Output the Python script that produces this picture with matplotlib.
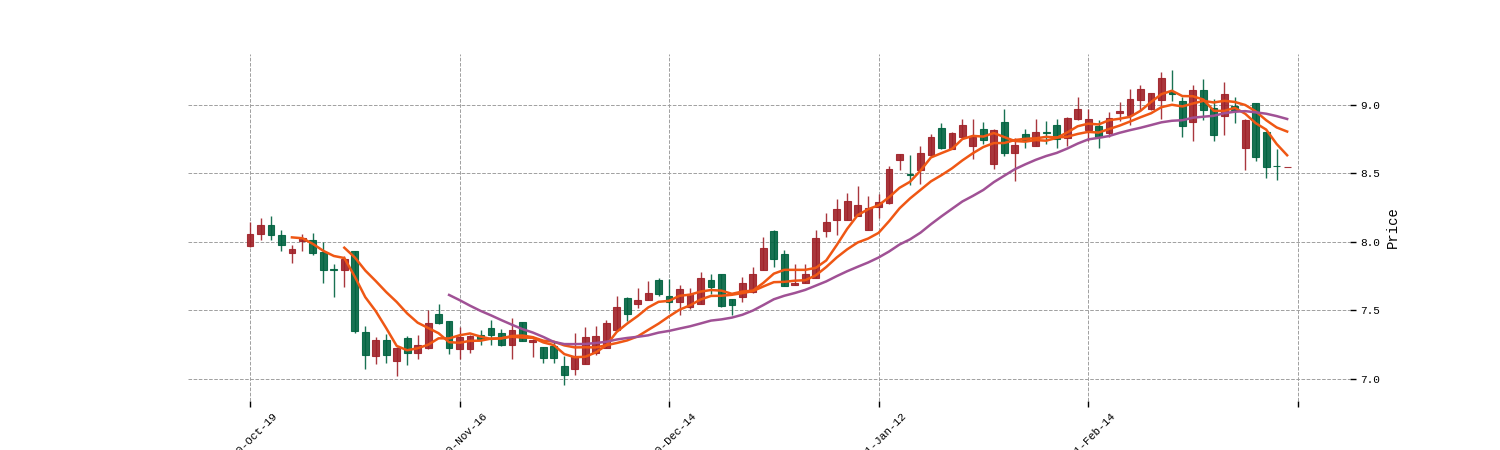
import matplotlib
matplotlib.use("Agg")
import matplotlib.pyplot as plt
import numpy as np
import pandas as pd

# ---- data ----
opens = [7.968, 8.058, 8.126, 8.053, 7.920, 8.010, 8.017, 7.927, 7.800, 7.794,
         7.932, 7.342, 7.167, 7.282, 7.131, 7.301, 7.189, 7.223, 7.476, 7.420,
         7.222, 7.219, 7.324, 7.373, 7.337, 7.251, 7.415, 7.268, 7.232, 7.244,
         7.093, 7.076, 7.112, 7.190, 7.227, 7.356, 7.593, 7.544, 7.576, 7.720,
         7.603, 7.560, 7.524, 7.548, 7.721, 7.764, 7.584, 7.596, 7.632, 7.796,
         8.082, 7.909, 7.685, 7.704, 7.740, 8.077, 8.161, 8.161, 8.190, 8.089,
         8.252, 8.282, 8.600, 8.497, 8.524, 8.633, 8.830, 8.677, 8.767, 8.701,
         8.823, 8.568, 8.876, 8.648, 8.786, 8.701, 8.801, 8.852, 8.762, 8.895,
         8.820, 8.844, 8.796, 8.945, 8.928, 9.036, 8.971, 9.036, 9.091, 9.031,
         8.873, 9.108, 8.976, 8.921, 8.990, 8.688, 9.012, 8.800, 8.557, 8.550]
highs = [8.146, 8.175, 8.187, 8.085, 7.981, 8.058, 8.066, 8.000, 7.840, 7.896,
         7.935, 7.386, 7.308, 7.330, 7.233, 7.313, 7.320, 7.507, 7.544, 7.425,
         7.380, 7.324, 7.361, 7.434, 7.366, 7.446, 7.418, 7.290, 7.235, 7.276,
         7.166, 7.337, 7.380, 7.385, 7.434, 7.605, 7.596, 7.666, 7.715, 7.739,
         7.728, 7.685, 7.661, 7.781, 7.764, 7.766, 7.586, 7.745, 7.820, 8.034,
         8.084, 7.938, 7.837, 7.841, 8.089, 8.209, 8.317, 8.358, 8.406, 8.334,
         8.350, 8.556, 8.645, 8.636, 8.700, 8.791, 8.871, 8.800, 8.900, 8.900,
         8.879, 8.823, 8.973, 8.762, 8.828, 8.900, 8.883, 8.900, 8.910, 9.058,
         8.969, 8.887, 8.952, 9.024, 9.113, 9.144, 9.090, 9.240, 9.252, 9.055,
         9.144, 9.192, 9.041, 9.168, 9.055, 8.895, 9.017, 8.802, 8.680, 8.550]
lows = [7.962, 8.017, 8.017, 7.932, 7.847, 7.932, 7.908, 7.700, 7.600, 7.670,
        7.337, 7.070, 7.112, 7.119, 7.022, 7.100, 7.143, 7.220, 7.403, 7.180,
        7.146, 7.190, 7.251, 7.251, 7.239, 7.146, 7.275, 7.161, 7.117, 7.117,
        6.959, 7.032, 7.110, 7.178, 7.225, 7.354, 7.422, 7.515, 7.574, 7.605,
        7.500, 7.464, 7.512, 7.546, 7.620, 7.524, 7.469, 7.560, 7.630, 7.794,
        7.820, 7.680, 7.683, 7.702, 7.738, 8.036, 8.050, 8.159, 8.188, 8.087,
        8.176, 8.280, 8.524, 8.417, 8.422, 8.631, 8.677, 8.675, 8.765, 8.604,
        8.714, 8.532, 8.629, 8.442, 8.689, 8.699, 8.714, 8.684, 8.697, 8.893,
        8.736, 8.688, 8.767, 8.880, 8.856, 8.964, 8.964, 8.897, 9.031, 8.767,
        8.740, 8.892, 8.740, 8.784, 8.870, 8.526, 8.591, 8.466, 8.454, 8.550]
closes = [8.061, 8.126, 8.049, 7.981, 7.951, 8.029, 7.920, 7.794, 7.795, 7.876,
          7.350, 7.172, 7.282, 7.175, 7.228, 7.192, 7.245, 7.410, 7.410, 7.223,
          7.307, 7.312, 7.295, 7.324, 7.251, 7.361, 7.280, 7.288, 7.154, 7.154,
          7.032, 7.166, 7.305, 7.312, 7.410, 7.524, 7.471, 7.580, 7.624, 7.617,
          7.560, 7.656, 7.620, 7.736, 7.675, 7.536, 7.541, 7.704, 7.769, 7.957,
          7.873, 7.680, 7.704, 7.769, 8.029, 8.144, 8.238, 8.298, 8.270, 8.245,
          8.289, 8.532, 8.641, 8.490, 8.653, 8.769, 8.689, 8.794, 8.852, 8.767,
          8.745, 8.818, 8.646, 8.709, 8.743, 8.803, 8.795, 8.750, 8.903, 8.972,
          8.897, 8.767, 8.904, 8.957, 9.043, 9.115, 9.084, 9.197, 9.080, 8.849,
          9.108, 8.964, 8.784, 9.079, 8.960, 8.892, 8.620, 8.550, 8.553, 8.550]

ma_windows = [5, 10, 20]
tick_positions = [0, 20, 40, 60, 80, 100]
tick_labels = ['2020-Oct-19', '2020-Nov-16', '2020-Dec-14', '2021-Jan-12', '2021-Feb-14', '']

# ---- style ----
UP = '#a02128'
DOWN = '#006340'
MA_COLORS = ['#ef5714', '#ef5714', '#a05195']
FONT = ['Liberation Mono', 'DejaVu Sans Mono']

plt.rcParams['font.family'] = FONT

df = pd.DataFrame({'Open': opens, 'High': highs, 'Low': lows, 'Close': closes})
x = np.arange(len(df))

fig = plt.figure(figsize=(15, 4.5), dpi=100)
ax = fig.add_subplot(111)
ax.set_facecolor('white')

colors = [UP if c >= o else DOWN for o, c in zip(df.Open, df.Close)]
bottoms = np.minimum(df.Open, df.Close)
heights = np.abs(df.Close - df.Open)

ax.vlines(x, df.Low, df.High, colors=colors, linewidth=1.0, alpha=0.9, zorder=2)
ax.bar(x, heights, width=0.65, bottom=bottoms, color=colors, edgecolor=colors,
       linewidth=0.8, alpha=0.9, zorder=3)

for w, col in zip(ma_windows, MA_COLORS):
    ma = df.Close.rolling(w).mean()
    ax.plot(x, ma, color=col, linewidth=1.8, zorder=4)

ax.set_xlim(-5.97, 105.0)
ax.set_ylim(6.843, 9.372)

ax.set_xticks(tick_positions)
ax.set_xticklabels(tick_labels, rotation=45, ha='center', fontsize=8)
ax.set_yticks([7.0, 7.5, 8.0, 8.5, 9.0])
ax.set_yticklabels(['7.0', '7.5', '8.0', '8.5', '9.0'], fontsize=8)
ax.yaxis.tick_right()
ax.yaxis.set_label_position('right')
ax.set_ylabel('Price', fontsize=10)

ax.tick_params(axis='both', direction='out', length=4, width=1, colors='black')
for s in ax.spines.values():
    s.set_visible(False)

ax.grid(True, linestyle='--', color='#a0a0a0', linewidth=0.7)
ax.set_axisbelow(True)

fig.savefig('out.png', dpi=100)
